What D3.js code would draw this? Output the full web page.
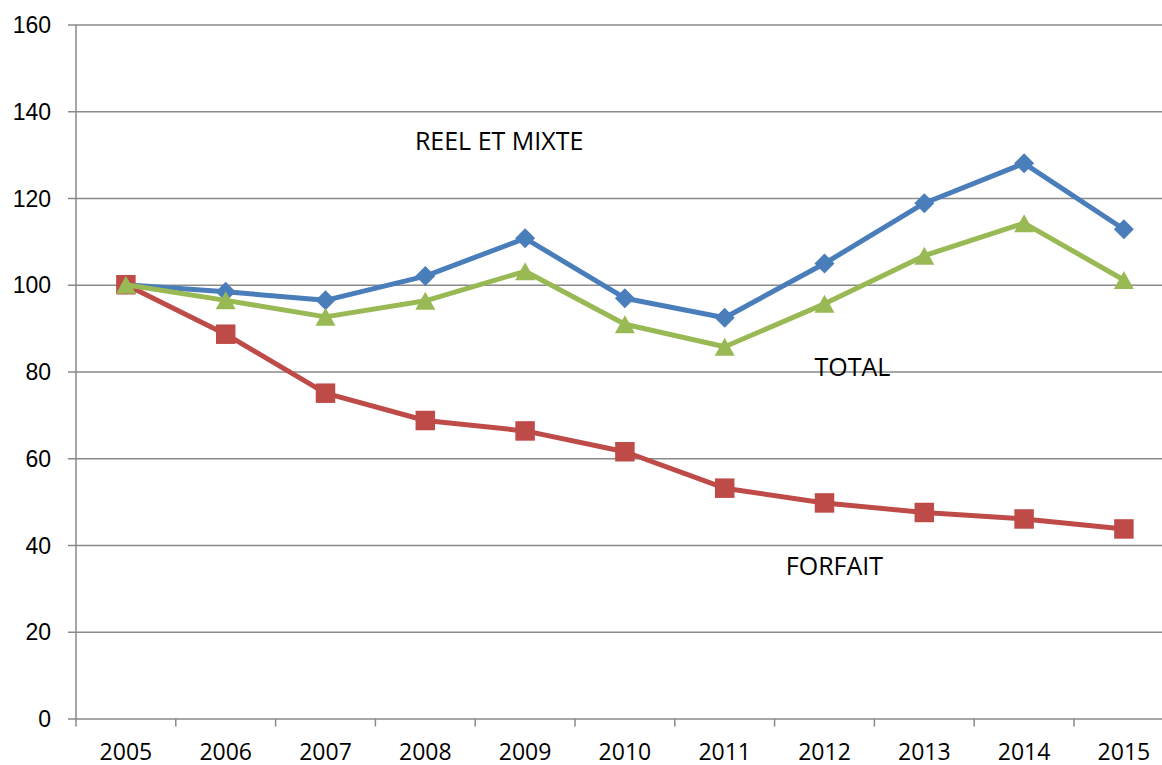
<!DOCTYPE html>
<html>
<head>
<meta charset="utf-8">
<script src="https://cdn.jsdelivr.net/npm/d3@7"></script>
<style>
  html, body { margin: 0; padding: 0; background: #fff; overflow: hidden; }
  svg { display: block; font-family: "Open Sans", sans-serif; }
</style>
</head>
<body>
<svg id="drawing_region"></svg>
<script>
const years = ["2005","2006","2007","2008","2009","2010","2011","2012","2013","2014","2015"];
const reelMixte = [100, 98.4, 96.4, 102.0, 110.7, 96.9, 92.4, 104.9, 118.8, 128.0, 112.8];
const forfait = [100, 88.6, 75.0, 68.7, 66.3, 61.5, 53.1, 49.7, 47.5, 46.0, 43.7];
const total = [100, 96.4, 92.6, 96.3, 103.1, 90.9, 85.7, 95.6, 106.7, 114.2, 101.1];
const yTicks = [0, 20, 40, 60, 80, 100, 120, 140, 160];
const seriesNames = ["REEL ET MIXTE", "FORFAIT", "TOTAL"];
const labelPos = [[2009 - 0.26, 141], [2012.1, 566], [2012.28, 367]];

// excel-like triangle, centered on its bounding box
const triangle = {
    draw(ctx, size) {
	const w = Math.sqrt(size), h = w * 0.9;
	ctx.moveTo(0, -h/2);
	ctx.lineTo(w/2, h/2);
	ctx.lineTo(-w/2, h/2);
	ctx.closePath();
    }
};

const series = [
    { name: seriesNames[0], values: reelMixte, color: "#4a7ebb", symbol: d3.symbolSquare, size: 200, rotate: 45 },
    { name: seriesNames[1], values: forfait, color: "#be4b48", symbol: d3.symbolSquare, size: 380, rotate: 0 },
    { name: seriesNames[2], values: total, color: "#98b954", symbol: triangle, size: 400, rotate: 0 }
];

class LineChart {

    constructor( config, data ){
	this.config = {
	    parent: config.parent,
	    width: config.width || 1162,
	    height: config.height || 765,
	    margin: config.margin || {top: 24.5, right: 0, bottom: 46.5, left: 76}
	};
	this.data = data;
	this.init();
    }

    init() {
	let self = this;
	let m = self.config.margin;

	self.svg = d3.select( self.config.parent )
	    .attr('width', self.config.width)
	    .attr('height', self.config.height);

	self.inner_width = 11 * 99.8;
	self.inner_height = self.config.height - m.top - m.bottom;

	self.chart = self.svg.append('g')
	    .attr('transform', `translate(${m.left}, ${m.top})`);

	self.xscale = d3.scaleBand()
	    .domain( years )
	    .range( [0, self.inner_width] );

	self.yscale = d3.scaleLinear()
	    .domain( [0, 160] )
	    .range( [self.inner_height, 0] );
    }

    update() {
	let self = this;
	self.render();
    }

    render() {
	let self = this;
	const grey = "#8a8a8a";

	// gridlines + y axis
	const yaxis = d3.axisLeft( self.yscale )
	    .tickValues( yTicks )
	    .tickSize( -self.inner_width - 20 )
	    .tickPadding( 25 );
	const yg = self.chart.append('g').call( yaxis );
	yg.select('.domain').remove();
	yg.selectAll('.tick line')
	    .attr('x1', -8)
	    .attr('stroke', grey)
	    .attr('stroke-width', 1.5);
	yg.selectAll('.tick text')
	    .attr('font-size', 23)
	    .attr('fill', '#000')
	    .attr('dy', '0.35em');

	self.chart.append('line')
	    .attr('x1', 0).attr('x2', 0)
	    .attr('y1', 0).attr('y2', self.inner_height)
	    .attr('stroke', grey)
	    .attr('stroke-width', 1.5);

	// x axis: ticks between categories
	const xg = self.chart.append('g')
	    .attr('transform', `translate(0, ${self.inner_height})`);
	xg.selectAll('.xtick')
	    .data( years.concat(["end"]) )
	    .enter()
	    .append('line')
	    .attr('x1', (d, i) => i * self.xscale.step())
	    .attr('x2', (d, i) => i * self.xscale.step())
	    .attr('y1', 0).attr('y2', 8)
	    .attr('stroke', grey)
	    .attr('stroke-width', 1.5);
	xg.selectAll('.xlabel')
	    .data( years )
	    .enter()
	    .append('text')
	    .attr('x', d => self.xscale(d) + self.xscale.bandwidth()/2)
	    .attr('y', 41)
	    .attr('text-anchor', 'middle')
	    .attr('font-size', 23)
	    .attr('fill', '#000')
	    .text( d => d );

	const x = (d, i) => self.xscale(years[i]) + self.xscale.bandwidth()/2;
	const line = d3.line()
	    .x( x )
	    .y( d => self.yscale(d) );

	self.data.forEach( s => {
	    self.chart.append('path')
		.datum( s.values )
		.attr('d', line)
		.attr('fill', 'none')
		.attr('stroke', s.color)
		.attr('stroke-width', 5)
		.attr('stroke-linejoin', 'round');

	    self.chart.selectAll(null)
		.data( s.values )
		.enter()
		.append('path')
		.attr('d', d3.symbol().type(s.symbol).size(s.size))
		.attr('transform', (d, i) => `translate(${x(d, i)}, ${self.yscale(d)}) rotate(${s.rotate})`)
		.attr('fill', s.color);
	});

	// series labels
	const xyear = d3.scaleLinear()
	    .domain( [2005, 2015] )
	    .range( [x(0, 0), x(0, 10)] );
	self.svg.selectAll('.serieslabel')
	    .data( seriesNames )
	    .enter()
	    .append('text')
	    .attr('x', (d, i) => self.config.margin.left + xyear(labelPos[i][0]))
	    .attr('y', (d, i) => labelPos[i][1])
	    .attr('dy', '0.35em')
	    .attr('text-anchor', 'middle')
	    .attr('font-size', 25)
	    .attr('fill', '#000')
	    .text( d => d );
    }
}

const line_chart = new LineChart( { parent: '#drawing_region', width: 1162, height: 765 }, series );
line_chart.update();
</script>
</body>
</html>
